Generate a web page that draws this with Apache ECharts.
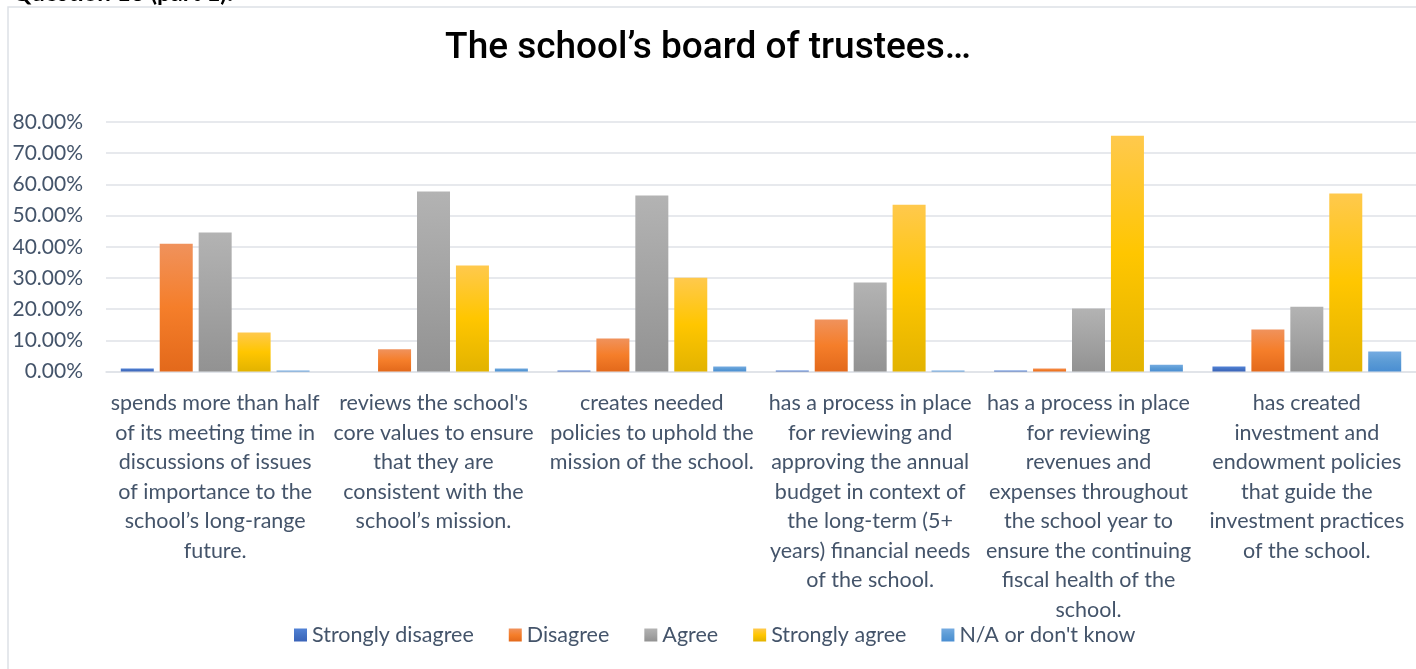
<!DOCTYPE html>
<html>
<head>
<meta charset="utf-8">
<title>The school’s board of trustees…</title>
<script src="https://cdn.jsdelivr.net/npm/echarts@6/dist/echarts.min.js"></script>
<style>
  html, body { margin: 0; padding: 0; background: #ffffff; }
  #chart { width: 1416px; height: 669px; }
</style>
</head>
<body>
<div id="chart"></div>
<script>
// Survey statements (wrapped as they appear under the axis)
const categories = [
  "spends more than half\nof its meeting time in\ndiscussions of issues\nof importance to the\nschool’s long-range\nfuture.",
  "reviews the school's\ncore values to ensure\nthat they are\nconsistent with the\nschool’s mission.",
  "creates needed\npolicies to uphold the\nmission of the school.",
  "has a process in place\nfor reviewing and\napproving the annual\nbudget in context of\nthe long-term (5+\nyears) financial needs\nof the school.",
  "has a process in place\nfor reviewing\nrevenues and\nexpenses throughout\nthe school year to\nensure the continuing\nfiscal health of the\nschool.",
  "has created\ninvestment and\nendowment policies\nthat guide the\ninvestment practices\nof the school."
];

// Share of responses (%) per answer
const stronglyDisagree = [1.0, 0.0, 0.3, 0.3, 0.3, 1.6];
const disagree         = [41.0, 7.1, 10.6, 16.7, 1.0, 13.5];
const agree            = [44.6, 57.7, 56.4, 28.5, 20.2, 20.8];
const stronglyAgree    = [12.5, 34.0, 30.1, 53.5, 75.6, 57.1];
const notApplicable    = [0.3, 1.0, 1.6, 0.3, 2.2, 6.4];

const seriesNames = ["Strongly disagree", "Disagree", "Agree", "Strongly agree", "N/A or don't know"];
const yTicks = { min: 0, max: 80, interval: 10 };

const textColor = "#44546a";
const gridColor = "#dfe2e7";

function vGrad(top, mid, bottom) {
  return new echarts.graphic.LinearGradient(0, 0, 0, 1, [
    { offset: 0, color: top },
    { offset: 0.5, color: mid },
    { offset: 1, color: bottom }
  ]);
}

const fills = [
  vGrad("#5282d6", "#4472c4", "#3a63b8"),
  vGrad("#f0925c", "#f57e2a", "#e3691b"),
  vGrad("#b3b3b3", "#a3a3a3", "#929292"),
  vGrad("#ffc94d", "#ffc600", "#e2b300"),
  vGrad("#75abe1", "#5b9bd5", "#4a8ed2")
];

const dataSets = [stronglyDisagree, disagree, agree, stronglyAgree, notApplicable];

const chart = echarts.init(document.getElementById("chart"), null, { renderer: "canvas" });

chart.setOption({
  backgroundColor: "#ffffff",
  animation: false,
  title: {
    text: "The school’s board of trustees…",
    left: "center",
    top: 25,
    textStyle: {
      fontFamily: "Roboto",
      fontWeight: 500,
      fontSize: 37,
      color: "#000000"
    }
  },
  graphic: [
    {
      type: "rect",
      shape: { x: 8, y: 7, width: 1440, height: 700 },
      style: { fill: "none", stroke: "#dde1e6", lineWidth: 1.5 },
      silent: true,
      z: -1
    },
    {
      type: "text",
      left: 12,
      top: -19,
      style: {
        text: "Question 13 (part 1):",
        font: "bold 24px Lato",
        fill: "#000000"
      },
      silent: true
    }
  ],
  legend: {
    data: seriesNames,
    top: 619,
    left: 289,
    icon: "rect",
    itemWidth: 13,
    itemHeight: 13,
    itemGap: 35,
    textStyle: {
      fontFamily: "Lato",
      fontSize: 21.5,
      color: textColor
    }
  },
  grid: {
    left: 106,
    top: 122,
    width: 1320,
    height: 249.5,
    containLabel: false
  },
  xAxis: {
    type: "category",
    data: categories,
    axisLine: { show: true, lineStyle: { color: gridColor, width: 1.5 } },
    axisTick: { show: false },
    axisLabel: {
      interval: 0,
      margin: 17,
      fontFamily: "Lato",
      fontSize: 21.5,
      lineHeight: 29.5,
      color: textColor,
      align: "center"
    }
  },
  yAxis: {
    type: "value",
    min: yTicks.min,
    max: yTicks.max,
    interval: yTicks.interval,
    axisLine: { show: false },
    axisTick: { show: false },
    splitLine: { lineStyle: { color: gridColor, width: 1.5 } },
    axisLabel: {
      margin: 23,
      fontFamily: "Lato",
      fontSize: 21,
      color: textColor,
      formatter: v => v.toFixed(2) + "%"
    }
  },
  series: seriesNames.map((name, i) => ({
    name,
    type: "bar",
    data: dataSets[i],
    barWidth: 33,
    barGap: "18%",
    itemStyle: { color: fills[i] }
  }))
});
</script>
</body>
</html>
